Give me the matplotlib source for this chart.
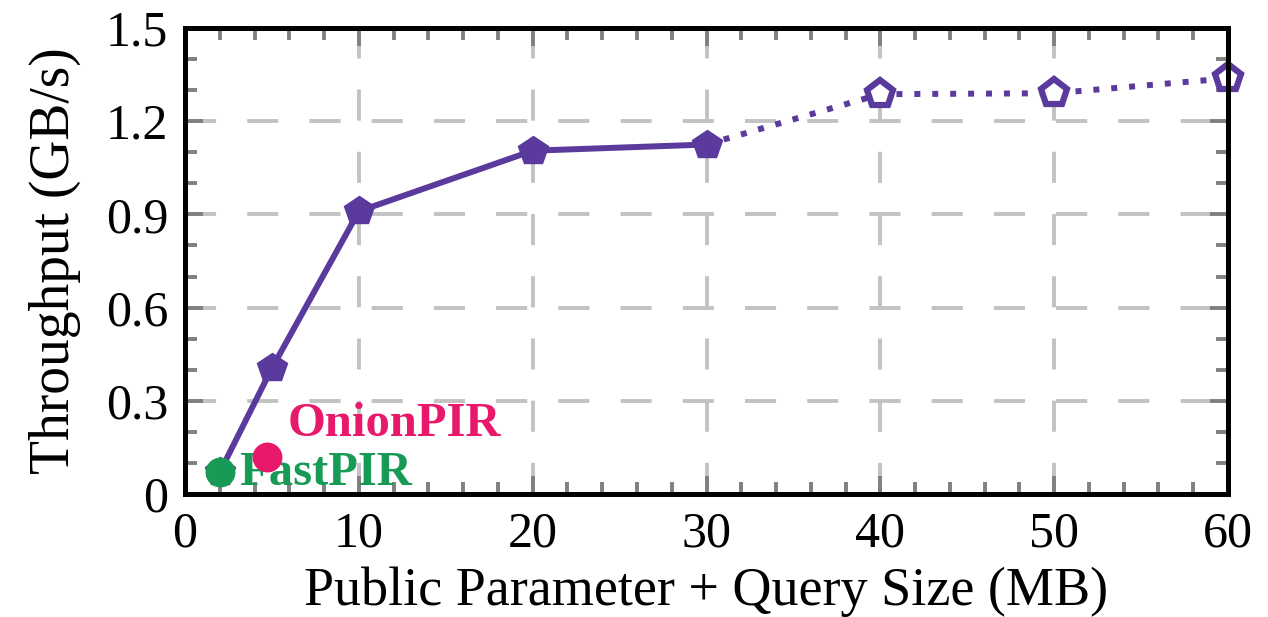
import matplotlib
matplotlib.use("Agg")
import matplotlib.pyplot as plt
from matplotlib.ticker import MultipleLocator

# measured (solid) and projected (dotted, hollow) throughput
size_mb = [2, 5, 10, 20, 30]
throughput = [0.07, 0.405, 0.91, 1.105, 1.125]
size_mb_proj = [30, 40, 50, 60]
throughput_proj = [1.125, 1.287, 1.29, 1.338]

# baselines
onion_x, onion_y = [4.7], [0.118]
fast_x, fast_y = [2.0], [0.072]

xticks = [0, 10, 20, 30, 40, 50, 60]
yticks = [0, 0.3, 0.6, 0.9, 1.2, 1.5]
ytick_labels = ["0", "0.3", "0.6", "0.9", "1.2", "1.5"]

purple = "#5a3a9c"
pink = "#e8186a"
green = "#179a55"

plt.rcParams['font.family'] = ['Liberation Serif', 'DejaVu Serif']

fig = plt.figure(figsize=(12.68, 6.17), dpi=100)
ax = fig.add_axes([185 / 1268, 1 - 494 / 617, (1228 - 185) / 1268, (494 - 28) / 617])

ax.grid(True, which='major', color='#c2c2c2', linestyle=(0, (8, 8)), linewidth=2.8, zorder=0)

ax.plot(size_mb_proj, throughput_proj, color=purple, linestyle=(0, (1, 2)), linewidth=4.3,
        marker='p', markersize=20, markerfacecolor='white', markeredgecolor=purple,
        markeredgewidth=4.5, markevery=[1, 2, 3], zorder=3, clip_on=False)
ax.plot(size_mb, throughput, color=purple, linewidth=4.3, marker='p', markersize=22,
        zorder=4, clip_on=False)

ax.scatter(onion_x, onion_y, s=420, color=pink, zorder=5, clip_on=False)
ax.scatter(fast_x, fast_y, s=420, color=green, zorder=6, clip_on=False)
ax.text(5.9, 0.225, "OnionPIR", color=pink, fontsize=35, fontweight='bold', va='center', ha='left')
ax.text(3.1, 0.066, "FastPIR", color=green, fontsize=35, fontweight='bold', va='center', ha='left')

ax.set_xlim(0, 60)
ax.set_ylim(0, 1.5)
ax.set_xticks(xticks)
ax.set_yticks(yticks)
ax.set_yticklabels(ytick_labels)
ax.xaxis.set_minor_locator(MultipleLocator(2))
ax.yaxis.set_minor_locator(MultipleLocator(0.1))
ax.tick_params(which='both', direction='in', top=True, right=True,
               width=2.8, color='#808080', labelsize=36, pad=12)
ax.tick_params(which='major', length=13)
ax.tick_params(which='minor', length=8.5)

for s in ax.spines.values():
    s.set_linewidth(3.6)
    s.set_zorder(7)

ax.set_xlabel("Public Parameter + Query Size (MB)", fontsize=39, labelpad=7)
ax.set_ylabel("Throughput (GB/s)", fontsize=40, labelpad=18)

fig.savefig("out.png", dpi=100)
